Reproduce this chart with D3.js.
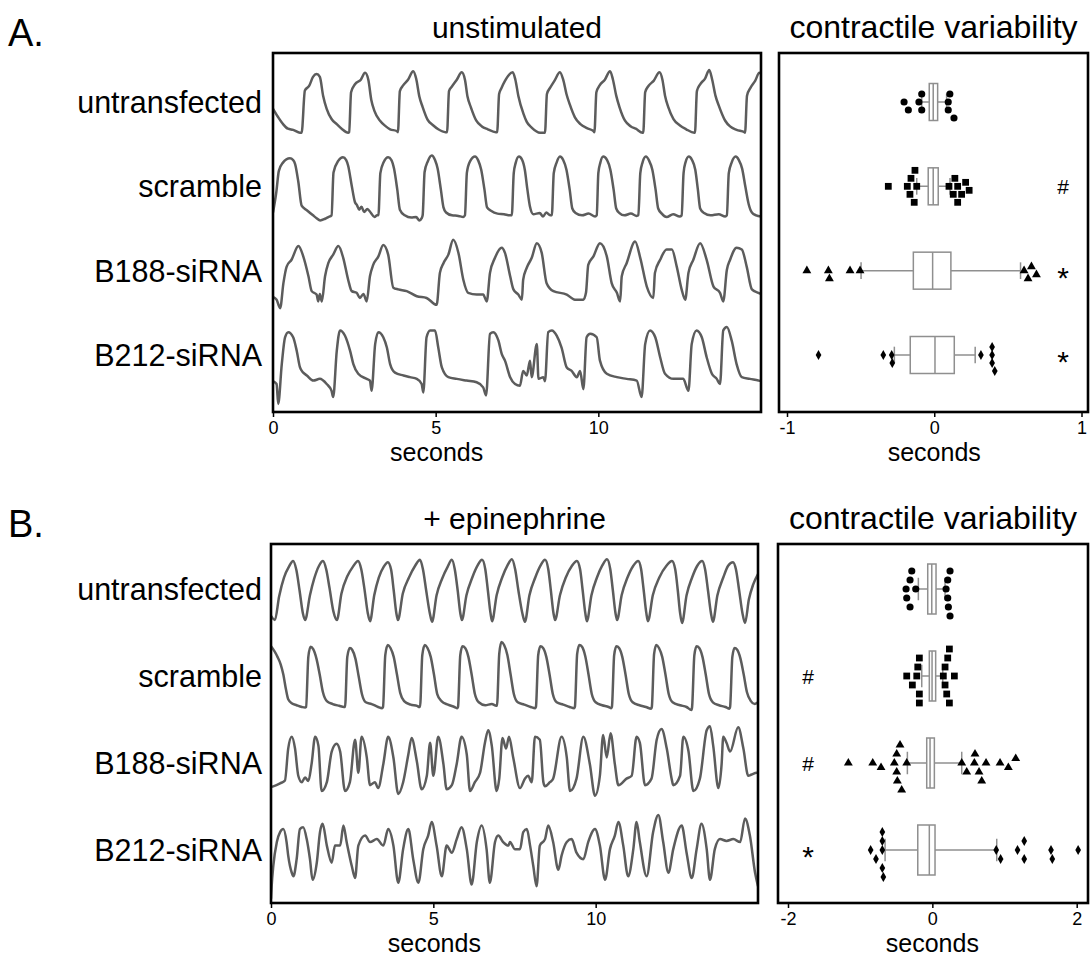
<!DOCTYPE html>
<html><head><meta charset="utf-8">
<script src="https://cdn.jsdelivr.net/npm/d3@7"></script>
<style>
body{margin:0;background:#fff}
svg{display:block}
text{font-family:"Liberation Sans",Arial,Helvetica,sans-serif;fill:#000}
</style>
</head><body>
<svg id="fig" width="1090" height="957"></svg>
<script>
// ---- categories and ticks ----
const groups = ["untransfected", "scramble", "B188-siRNA", "B212-siRNA"];
const traceTicks = [0, 5, 10];
const restVarTicks = [-1, 0, 1];
const epiVarTicks = [-2, 0, 2];

// ---- contraction traces: [time (s), normalised amplitude] ----
const restUntransfected = [[0,0.39],[0.15,0.25],[0.31,0.12],[0.46,0.04],[0.62,0.02],[0.83,-0.03],
[0.88,-0.03],[0.98,0.71],[1.11,0.79],[1.23,0.95],[1.34,1.0],[1.44,0.95],[1.54,0.62],[1.65,0.39],[1.80,0.21],[1.96,0.12],[2.11,0.04],[2.31,-0.03],
[2.34,-0.02],[2.40,0.68],[2.52,0.82],[2.70,0.9],[2.83,1.02],[2.93,0.9],[3.02,0.55],[3.12,0.35],[3.29,0.18],[3.45,0.09],[3.60,0.03],[3.80,0.0],
[3.84,-0.02],[3.90,0.7],[4.00,0.8],[4.15,0.9],[4.31,1.05],[4.40,0.92],[4.50,0.6],[4.60,0.42],[4.75,0.2],[4.92,0.1],[5.08,0.03],[5.30,-0.02],
[5.35,-0.02],[5.41,0.7],[5.50,0.78],[5.65,0.9],[5.80,1.03],[5.90,0.9],[5.98,0.6],[6.08,0.42],[6.25,0.18],[6.42,0.08],[6.60,0.03],[6.85,-0.02],
[6.89,-0.02],[6.95,0.65],[7.02,0.75],[7.13,0.88],[7.37,1.03],[7.45,0.9],[7.54,0.62],[7.70,0.3],[7.80,0.16],[7.95,0.06],[8.21,-0.03],
[8.36,-0.03],[8.42,0.65],[8.52,0.76],[8.65,0.88],[8.82,1.03],[8.92,0.9],[9.02,0.65],[9.12,0.47],[9.28,0.24],[9.45,0.12],[9.65,0.05],[9.85,0.0],
[9.88,-0.02],[9.94,0.68],[10.04,0.8],[10.20,0.9],[10.36,1.05],[10.45,0.9],[10.55,0.62],[10.65,0.42],[10.82,0.18],[11.0,0.08],[11.15,0.04],[11.36,-0.03],
[11.38,-0.03],[11.44,0.68],[11.54,0.79],[11.70,0.88],[11.88,1.03],[11.97,0.9],[12.05,0.62],[12.15,0.42],[12.31,0.21],[12.5,0.1],[12.7,0.03],[12.95,-0.03],
[12.97,-0.03],[13.03,0.7],[13.13,0.82],[13.28,0.92],[13.41,1.07],[13.50,0.9],[13.6,0.62],[13.7,0.45],[13.9,0.18],[14.05,0.08],[14.25,0.02],[14.49,-0.02],
[14.51,-0.03],[14.57,0.62],[14.68,0.76],[14.82,0.88],[14.95,1.02],[15.0,1.0]];

const restScramble = [[0,0.05],[0.1,0.4],[0.18,0.78],[0.3,0.92],[0.52,1.0],[0.62,0.97],[0.68,0.9],[0.78,0.58],[0.88,0.17],[1.04,0.09],[1.23,0.0],[1.34,-0.05],[1.45,-0.09],[1.6,-0.06],[1.7,-0.03],
[1.80,0.0],[1.86,0.75],[2.01,0.96],[2.15,1.02],[2.25,0.97],[2.31,0.87],[2.42,0.52],[2.52,0.23],[2.58,0.18],[2.65,0.1],[2.72,0.15],[2.8,0.06],[2.9,0.11],[3.0,0.05],[3.12,-0.03],[3.2,0.0],
[3.24,0.0],[3.30,0.74],[3.40,0.93],[3.54,1.02],[3.64,0.97],[3.72,0.82],[3.82,0.45],[3.9,0.1],[4.05,0.0],[4.25,-0.04],[4.4,-0.03],[4.5,-0.09],[4.57,-0.05],
[4.60,0.0],[4.66,0.76],[4.76,0.95],[4.88,1.05],[4.98,0.97],[5.06,0.82],[5.16,0.45],[5.24,0.14],[5.32,0.05],[5.5,0.0],[5.7,-0.01],[5.85,-0.03],
[5.90,0.0],[5.96,0.75],[6.06,0.95],[6.21,1.03],[6.31,0.96],[6.40,0.8],[6.50,0.45],[6.58,0.14],[6.7,0.08],[6.9,0.03],[7.1,0.02],[7.28,0.0],
[7.34,0.0],[7.40,0.74],[7.46,0.92],[7.56,1.03],[7.66,0.97],[7.74,0.8],[7.82,0.45],[7.90,0.15],[8.0,0.02],[8.2,0.04],[8.3,-0.02],[8.4,0.05],[8.52,0.0],
[8.57,0.0],[8.63,0.74],[8.72,0.93],[8.82,1.03],[8.92,0.97],[9.02,0.8],[9.12,0.45],[9.20,0.12],[9.3,0.04],[9.5,0.0],[9.7,0.03],[9.9,-0.02],
[9.95,0.0],[10.0,0.74],[10.06,0.92],[10.15,1.03],[10.27,0.97],[10.37,0.8],[10.47,0.45],[10.55,0.12],[10.65,0.04],[10.8,0.0],[11.0,0.03],[11.18,-0.01],
[11.23,0.0],[11.29,0.74],[11.36,0.93],[11.46,1.03],[11.56,0.96],[11.66,0.8],[11.76,0.45],[11.84,0.12],[11.95,0.03],[12.1,-0.03],[12.3,0.02],[12.5,-0.02],
[12.56,0.0],[12.62,0.74],[12.68,0.93],[12.78,1.03],[12.88,0.97],[12.98,0.8],[13.06,0.45],[13.13,0.12],[13.25,0.04],[13.45,0.0],[13.7,0.02],[13.9,-0.02],
[13.95,0.0],[14.01,0.74],[14.1,0.93],[14.22,1.03],[14.32,0.97],[14.42,0.82],[14.52,0.5],[14.62,0.2],[14.72,0.05],[14.85,0.0],[15.0,-0.02]];

const restB188 = [[0,0.05],[0.11,0.0],[0.22,-0.15],[0.32,0.29],[0.42,0.58],[0.57,0.70],[0.78,0.94],[0.93,0.76],[1.09,0.41],[1.19,0.15],[1.34,0.09],[1.39,-0.03],[1.44,0.1],[1.50,-0.03],
[1.60,0.41],[1.70,0.64],[1.85,0.79],[2.01,0.94],[2.16,0.73],[2.31,0.35],[2.42,0.15],[2.57,0.12],[2.67,0.03],[2.78,0.1],[2.88,-0.03],
[2.98,0.41],[3.08,0.61],[3.24,0.76],[3.39,0.96],[3.54,0.79],[3.70,0.21],[3.85,0.18],[4.11,0.15],[4.42,0.06],[4.72,0.03],[5.03,-0.09],
[5.13,0.47],[5.24,0.64],[5.39,0.79],[5.54,1.05],[5.70,0.82],[5.85,0.35],[6.00,0.12],[6.26,0.09],[6.46,0.09],[6.57,-0.03],
[6.67,0.47],[6.82,0.73],[7.03,0.91],[7.13,0.82],[7.29,0.41],[7.39,0.18],[7.54,0.09],[7.65,0.0],
[7.69,0.35],[7.80,0.56],[7.95,0.73],[8.11,0.99],[8.26,0.82],[8.41,0.29],[8.62,0.15],[9.03,0.09],[9.28,0.0],[9.54,0.0],
[9.62,0.12],[9.69,0.61],[9.85,0.76],[10.05,0.99],[10.26,0.76],[10.41,0.29],[10.57,0.12],[10.67,-0.03],
[10.72,0.41],[10.87,0.64],[11.13,1.02],[11.29,0.73],[11.49,0.23],[11.69,0.03],
[11.74,0.47],[11.90,0.70],[12.10,0.88],[12.26,0.88],[12.41,0.58],[12.56,0.18],[12.67,0.0],
[12.77,0.47],[12.92,0.70],[13.13,0.99],[13.33,0.70],[13.54,0.23],[13.74,0.12],[13.84,-0.03],
[13.95,0.52],[14.05,0.70],[14.25,0.91],[14.41,0.88],[14.56,0.58],[14.72,0.18],[14.92,0.12],[15.0,0.1]];

const restB212 = [[0,0.05],[0.11,0.0],[0.16,-0.35],[0.27,0.35],[0.37,0.82],[0.47,0.91],[0.62,0.82],[0.73,0.58],[0.83,0.29],[0.93,0.2],[1.04,0.15],[1.24,0.06],[1.44,0.09],[1.65,0.0],[1.80,-0.12],[1.85,-0.23],
[1.96,0.58],[2.06,0.94],[2.21,0.85],[2.37,0.58],[2.47,0.35],[2.62,0.18],[2.88,0.09],[2.98,0.06],[3.03,-0.12],
[3.14,0.70],[3.24,0.91],[3.39,0.82],[3.50,0.64],[3.60,0.35],[3.75,0.2],[4.01,0.15],[4.21,0.12],[4.42,0.09],[4.57,0.0],[4.62,-0.15],
[4.72,0.82],[4.83,0.94],[4.98,0.94],[5.08,0.64],[5.19,0.29],[5.39,0.12],[5.65,0.09],[5.95,0.06],[6.26,0.03],[6.46,-0.06],[6.55,-0.2],
[6.67,0.88],[6.77,0.91],[6.93,0.76],[7.03,0.53],[7.13,0.41],[7.29,0.12],[7.44,0.0],[7.59,-0.03],[7.69,0.23],[7.80,0.15],[7.90,0.41],[7.95,0.12],[8.11,0.70],[8.16,0.09],[8.31,0.12],[8.36,0.05],
[8.46,0.91],[8.57,0.94],[8.72,0.85],[8.87,0.64],[9.03,0.29],[9.18,0.23],[9.34,0.12],[9.44,0.23],[9.54,-0.09],
[9.64,0.82],[9.75,0.88],[9.95,0.82],[10.05,0.41],[10.26,0.18],[10.57,0.12],[10.87,0.09],[11.18,0.06],[11.33,-0.23],
[11.44,0.70],[11.59,0.94],[11.75,0.82],[11.90,0.47],[12.05,0.18],[12.31,0.09],[12.61,0.09],[12.77,-0.12],
[12.87,0.70],[13.02,0.94],[13.18,0.82],[13.33,0.47],[13.49,0.18],[13.64,0.09],[13.74,0.0],
[13.84,0.94],[13.95,1.0],[14.10,0.76],[14.25,0.35],[14.41,0.12],[14.66,0.09],[14.92,0.06],[15.0,0.05]];

const epiUntransfected = [[0,0.07],[0.12,0.0],[0.25,0.4],[0.4,0.72],[0.55,0.9],[0.68,1.0],[0.78,0.85],[0.88,0.5],[0.98,0.12],
[1.05,0.0],[1.2,0.42],[1.33,0.7],[1.48,0.92],[1.60,1.0],[1.7,0.86],[1.8,0.55],[1.92,0.15],
[2.03,0.0],[2.17,0.45],[2.35,0.74],[2.52,0.9],[2.68,1.0],[2.78,0.86],[2.88,0.52],[2.98,0.12],
[3.05,-0.02],[3.18,0.42],[3.32,0.72],[3.47,0.9],[3.60,0.98],[3.70,0.85],[3.78,0.5],[3.86,0.12],
[3.91,0.0],[4.06,0.45],[4.25,0.72],[4.44,0.92],[4.59,1.02],[4.68,0.86],[4.78,0.5],[4.89,0.12],
[4.96,-0.03],[5.1,0.42],[5.27,0.7],[5.44,0.9],[5.57,1.02],[5.66,0.86],[5.75,0.5],[5.83,0.12],
[5.88,0.0],[6.02,0.42],[6.2,0.72],[6.36,0.92],[6.50,1.02],[6.6,0.86],[6.68,0.5],[6.76,0.12],
[6.81,-0.02],[6.95,0.42],[7.12,0.72],[7.28,0.92],[7.42,1.03],[7.52,0.86],[7.62,0.5],[7.74,0.12],
[7.82,-0.03],[7.96,0.42],[8.14,0.72],[8.3,0.92],[8.44,1.02],[8.54,0.86],[8.62,0.5],[8.7,0.12],
[8.75,0.0],[8.9,0.42],[9.08,0.72],[9.27,0.92],[9.42,1.0],[9.52,0.86],[9.6,0.5],[9.68,0.12],
[9.73,-0.02],[9.87,0.42],[10.04,0.72],[10.2,0.92],[10.35,1.03],[10.45,0.86],[10.53,0.5],[10.61,0.12],
[10.66,0.0],[10.8,0.42],[10.98,0.72],[11.16,0.92],[11.31,1.0],[11.4,0.86],[11.48,0.5],[11.56,0.12],
[11.61,-0.02],[11.76,0.42],[11.96,0.72],[12.18,0.92],[12.35,1.0],[12.45,0.86],[12.53,0.5],[12.6,0.12],
[12.66,-0.05],[12.8,0.42],[12.97,0.72],[13.13,0.92],[13.28,1.0],[13.37,0.86],[13.46,0.5],[13.55,0.12],
[13.61,-0.03],[13.75,0.42],[13.93,0.72],[14.08,0.92],[14.23,0.98],[14.32,0.86],[14.42,0.5],[14.52,0.12],
[14.6,-0.05],[14.72,0.35],[14.85,0.6],[15.0,0.78]];

const epiScramble = [[0,1.03],[0.1,0.95],[0.2,0.85],[0.3,0.72],[0.38,0.55],[0.46,0.3],[0.53,0.13],[0.65,0.06],[0.79,0.03],[0.95,0.0],[1.05,-0.01],
[1.08,0.0],[1.15,0.85],[1.22,1.02],[1.3,0.98],[1.4,0.82],[1.5,0.55],[1.6,0.25],[1.72,0.1],[1.9,0.05],[2.1,0.02],[2.25,0.0],
[2.28,0.0],[2.35,0.85],[2.43,1.0],[2.5,0.97],[2.6,0.82],[2.7,0.52],[2.8,0.22],[2.92,0.08],[3.1,0.05],[3.3,0.0],[3.42,-0.02],
[3.45,0.0],[3.52,0.88],[3.6,1.05],[3.68,1.0],[3.78,0.85],[3.88,0.55],[3.98,0.24],[4.1,0.1],[4.3,0.04],[4.5,0.02],[4.57,0.0],
[4.59,0.0],[4.66,0.88],[4.74,1.05],[4.82,1.0],[4.92,0.85],[5.02,0.55],[5.12,0.22],[5.25,0.1],[5.45,0.04],[5.65,0.0],[5.74,-0.02],
[5.76,0.0],[5.83,0.88],[5.9,1.03],[5.98,1.0],[6.08,0.85],[6.18,0.55],[6.28,0.22],[6.4,0.08],[6.6,0.03],[6.8,0.05],[6.94,0.02],
[6.96,0.02],[7.03,0.9],[7.1,1.1],[7.18,1.05],[7.28,0.88],[7.38,0.55],[7.48,0.22],[7.6,0.08],[7.8,0.04],[8.0,0.0],[8.14,-0.02],
[8.16,0.0],[8.23,0.88],[8.3,1.03],[8.38,1.0],[8.48,0.85],[8.58,0.55],[8.68,0.22],[8.8,0.08],[9.0,0.04],[9.2,0.0],[9.34,-0.02],
[9.36,0.0],[9.43,0.9],[9.5,1.05],[9.58,1.02],[9.68,0.86],[9.78,0.55],[9.88,0.22],[10.0,0.08],[10.2,0.03],[10.4,0.0],[10.48,-0.02],
[10.5,0.0],[10.57,0.88],[10.64,1.03],[10.72,1.0],[10.82,0.85],[10.92,0.55],[11.02,0.22],[11.14,0.08],[11.35,0.03],[11.55,0.0],[11.71,-0.03],
[11.73,0.0],[11.8,0.9],[11.87,1.05],[11.95,1.0],[12.05,0.85],[12.15,0.55],[12.25,0.22],[12.37,0.08],[12.6,0.03],[12.8,0.0],[12.95,-0.05],
[12.97,0.0],[13.04,0.88],[13.11,1.03],[13.19,1.0],[13.29,0.85],[13.39,0.55],[13.49,0.22],[13.61,0.08],[13.8,0.03],[14.0,0.0],[14.12,-0.03],
[14.14,0.0],[14.21,0.85],[14.28,1.0],[14.36,0.97],[14.46,0.82],[14.56,0.55],[14.66,0.25],[14.78,0.1],[14.9,0.05],[15.0,0.08]];

const epiB188 = [[0,0.12],[0.07,0.13],[0.28,0.18],[0.43,0.23],[0.53,0.77],[0.64,0.97],[0.74,0.77],[0.84,0.31],[0.95,0.2],[1.05,0.28],[1.15,0.22],[1.25,0.51],[1.36,0.97],[1.46,0.82],[1.56,0.05],
[1.72,0.2],[1.87,0.72],[2.02,0.85],[2.13,0.72],[2.28,0.05],[2.43,0.2],[2.59,0.92],[2.69,0.36],[2.79,0.97],[2.95,0.62],[3.05,0.15],[3.20,0.2],[3.30,0.1],
[3.46,0.51],[3.61,0.97],[3.77,0.62],[3.92,0.0],[4.07,0.2],[4.23,0.67],[4.33,0.95],[4.49,0.56],[4.64,0.08],[4.80,0.31],[4.90,0.87],[5.0,0.31],[5.15,0.97],[5.31,0.51],[5.41,0.08],
[5.57,0.15],[5.72,0.51],[5.87,0.97],[6.03,0.67],[6.13,0.05],[6.28,0.2],[6.44,0.36],[6.59,0.87],[6.69,1.08],[6.80,0.82],[6.95,0.05],
[7.03,0.26],[7.13,0.95],[7.24,0.77],[7.33,0.97],[7.46,0.62],[7.67,0.1],[7.82,0.26],[7.92,0.31],[8.03,0.2],[8.13,0.97],[8.28,0.92],[8.39,0.2],[8.44,0.13],
[8.59,0.2],[8.69,0.26],[8.95,0.97],[9.11,0.62],[9.21,0.05],[9.41,0.26],[9.62,0.97],[9.82,0.51],[9.98,-0.03],[10.13,0.31],[10.23,1.0],[10.34,0.62],[10.46,1.03],[10.59,0.51],[10.70,0.15],
[10.95,0.26],[11.11,0.31],[11.26,0.97],[11.36,0.87],[11.52,0.15],[11.72,0.26],[11.88,0.92],[12.03,1.1],[12.19,0.77],[12.34,0.26],[12.39,0.15],[12.60,0.31],[12.70,0.97],[12.86,0.72],[13.01,0.05],
[13.21,0.26],[13.42,1.08],[13.52,1.15],[13.62,0.82],[13.78,0.1],[13.88,0.51],[13.93,0.97],[14.03,0.87],[14.14,0.72],[14.39,1.13],[14.55,0.77],[14.70,0.31],[14.80,0.33],[14.96,0.36],[15.0,0.36]];

const epiB212 = [[0,-0.3],[0.02,-0.09],[0.07,0.25],[0.18,0.66],[0.28,0.83],[0.38,0.88],[0.48,0.66],[0.53,0.43],[0.64,0.14],[0.69,0.08],[0.79,0.37],[0.89,0.88],[0.99,0.91],[1.10,0.71],[1.20,0.37],[1.28,0.02],
[1.41,0.31],[1.51,0.83],[1.59,0.97],[1.72,0.6],[1.87,0.31],[1.97,0.6],[2.13,0.6],[2.23,0.94],[2.33,0.66],[2.49,0.25],[2.59,0.05],[2.69,0.6],[2.90,0.77],[3.05,0.66],[3.26,0.71],[3.46,0.6],[3.61,0.88],[3.77,0.6],[3.92,-0.03],
[4.07,0.54],[4.23,0.88],[4.38,0.37],[4.54,-0.03],[4.69,0.54],[4.84,0.77],[4.95,1.0],[5.10,0.6],[5.26,0.08],[5.41,0.6],[5.57,0.48],[5.72,0.71],[5.87,0.91],[6.03,0.54],[6.18,-0.06],
[6.34,0.66],[6.49,0.94],[6.64,0.54],[6.74,-0.03],[6.90,0.66],[7.0,0.77],[7.15,0.66],[7.31,0.6],[7.36,0.66],[7.51,0.54],[7.67,0.54],[7.77,0.83],[7.88,0.88],[7.98,0.6],[8.08,0.25],[8.18,-0.09],
[8.28,0.6],[8.44,0.71],[8.54,0.94],[8.69,0.66],[8.85,0.19],[8.95,0.43],[9.11,0.66],[9.26,0.71],[9.41,0.48],[9.62,0.37],[9.77,0.66],[9.98,0.88],[10.13,0.6],[10.29,0.02],
[10.44,0.54],[10.59,0.77],[10.70,1.0],[10.85,0.6],[11.0,0.08],[11.16,0.54],[11.26,1.0],[11.36,0.66],[11.57,0.08],[11.77,0.83],[11.93,1.12],[12.08,0.66],[12.24,0.14],
[12.39,0.54],[12.65,0.94],[12.80,0.48],[12.96,0.05],[13.11,0.54],[13.26,0.97],[13.42,0.54],[13.52,0.02],[13.67,0.54],[13.83,0.71],[14.03,0.68],[14.24,0.71],[14.45,0.66],[14.60,1.06],[14.75,0.77],[14.91,0.14],[15.0,-0.09]];

// ---- contractile variability (s): box statistics and outlying beats ----
const restQuartiles = [[-0.034, -0.007, 0.023], [-0.041, -0.007, 0.027], [-0.142, -0.011, 0.113], [-0.163, 0.005, 0.136]];
const restWhiskers  = [[-0.085, 0.084], [-0.119, 0.107], [-0.497, 0.586], [-0.271, 0.278]];
const restPoints = [
  [-0.205, -0.176, -0.104, -0.085, -0.085, 0.095, 0.095, 0.106, 0.134],
  [-0.312, -0.183, -0.165, -0.158, -0.136, -0.131, -0.119, 0.10, 0.129, 0.14, 0.159, 0.159, 0.186, 0.213, 0.237],
  [-0.865, -0.719, -0.712, -0.572, -0.504, 0.61, 0.637, 0.66, 0.694],
  [-0.786, -0.346, -0.289, -0.285, 0.317, 0.393, 0.393, 0.393, 0.411]
];
const restSignificance = ["", "#", "*", "*"];

const epiQuartiles = [[-0.064, -0.008, 0.051], [-0.042, -0.004, 0.046], [-0.078, -0.032, 0.028], [-0.202, -0.042, 0.037]];
const epiWhiskers  = [[-0.194, 0.176], [-0.147, 0.144], [-0.346, 0.407], [-0.655, 0.892]];
const epiPoints = [
  [-0.364, -0.355, -0.309, -0.309, -0.285, -0.23, 0.19, 0.213, 0.213, 0.222, 0.245, 0.245],
  [-0.355, -0.277, -0.216, -0.202, -0.18, -0.18, -0.18, 0.152, 0.176, 0.176, 0.199, 0.213, 0.236, 0.236, 0.305],
  [-1.164, -0.826, -0.711, -0.527, -0.494, -0.494, -0.485, -0.448, -0.425, -0.355, 0.407, 0.476, 0.582, 0.591, 0.647, 0.684, 0.744, 0.938, 1.053, 1.155],
  [-0.855, -0.781, -0.693, -0.693, -0.693, -0.693, -0.679, 0.885, 0.946, 1.18, 1.273, 1.273, 1.644, 1.662, 2.02]
];
const epiSignificance = ["", "#", "#", "*"];

// ---- drawing ----
const svg = d3.select("#fig");
const symbols = [d3.symbolCircle, d3.symbolSquare, d3.symbolTriangle, d3.symbolDiamond];
const symbolSizes = [40, 46, 34, 28];
const traceColor = "#5c5c5c";
const boxColor = "#8f8f8f";

const panels = [
  { letter: "A.", title: "unstimulated",
    traces: [restUntransfected, restScramble, restB188, restB212],
    quart: restQuartiles, whisk: restWhiskers, pts: restPoints, sig: restSignificance,
    varTicks: restVarTicks, varDomain: [-1, 1],
    g: { tx0: 273, tx1: 761, ty0: 53, ty1: 412, bx0: 779, bx1: 1088, vr0: 787, vr1: 1081.5,
         rows: [102, 355], boxH: 37, hi: -28, lo: 29, step: 8, sigX: 1063 } },
  { letter: "B.", title: "+ epinephrine",
    traces: [epiUntransfected, epiScramble, epiB188, epiB212],
    quart: epiQuartiles, whisk: epiWhiskers, pts: epiPoints, sig: epiSignificance,
    varTicks: epiVarTicks, varDomain: [-2, 2],
    g: { tx0: 271, tx1: 758, ty0: 544, ty1: 903, bx0: 778, bx1: 1088, vr0: 788, vr1: 1076.7,
         rows: [589, 850], boxH: 50, hi: -28, lo: 31, step: 9, sigX: 808 } }
];

// simple beeswarm: stack points with similar values vertically around the row
function dodge(values, xs, step) {
  const placed = [];
  const out = new Array(values.length);
  const order = values.map((v, i) => i).sort((a, b) => values[a] - values[b]);
  for (const i of order) {
    const x = xs(values[i]);
    for (let k = 0; k < 40; k++) {
      const dy = (k % 2 ? 1 : -1) * Math.ceil(k / 2) * step / 2;
      if (placed.every(p => (p.x - x) ** 2 + (p.y - dy) ** 2 >= step * step - 0.5)) {
        placed.push({ x, y: dy }); out[i] = dy; break;
      }
    }
  }
  return out;
}

function styleAxis(ax) {
  ax.select(".domain").remove();
  ax.selectAll("line").attr("stroke", "#000").attr("stroke-width", 1.5);
  ax.selectAll("text").attr("font-size", 18).attr("font-family", null);
}

panels.forEach((P, pi) => {
  const g = P.g;
  const root = svg.append("g");

  root.append("text").attr("x", 8).attr("y", g.ty0 - 7)
    .attr("font-size", 38).text(P.letter);
  root.append("text").attr("x", (g.tx0 + g.tx1) / 2).attr("y", g.ty0 - 15)
    .attr("text-anchor", "middle").attr("font-size", 30).text(P.title);
  root.append("text").attr("x", (g.bx0 + g.bx1) / 2).attr("y", g.ty0 - 15)
    .attr("text-anchor", "middle").attr("font-size", 32).text("contractile variability");

  const rowY = d3.scalePoint().domain(groups).range(g.rows);

  // row labels
  root.selectAll(".rowlab").data(groups).join("text")
    .attr("x", 262).attr("y", d => rowY(d)).attr("dy", "0.36em")
    .attr("text-anchor", "end").attr("font-size", 30.5).text(d => d);

  // ---- traces ----
  const xt = d3.scaleLinear().domain([0, 15]).range([g.tx0, g.tx1]);
  const clipId = "clip" + pi;
  root.append("clipPath").attr("id", clipId).append("rect")
    .attr("x", g.tx0).attr("y", g.ty0).attr("width", g.tx1 - g.tx0).attr("height", g.ty1 - g.ty0);
  const tg = root.append("g").attr("clip-path", `url(#${clipId})`);
  P.traces.forEach((tr, i) => {
    const c = rowY(groups[i]);
    const yv = d3.scaleLinear().domain([0, 1]).range([c + g.lo, c + g.hi]);
    const line = d3.line().x(d => xt(d[0])).y(d => yv(d[1])).curve(d3.curveMonotoneX);
    tg.append("path").datum(tr).attr("d", line)
      .attr("fill", "none").attr("stroke", traceColor).attr("stroke-width", 2.5)
      .attr("stroke-linejoin", "round");
  });
  root.append("rect").attr("x", g.tx0).attr("y", g.ty0)
    .attr("width", g.tx1 - g.tx0).attr("height", g.ty1 - g.ty0)
    .attr("fill", "none").attr("stroke", "#000").attr("stroke-width", 2.6);
  const axT = root.append("g").attr("transform", `translate(0,${g.ty1})`)
    .call(d3.axisBottom(xt).tickValues(traceTicks).tickSize(5).tickPadding(4).tickFormat(d => String(d)));
  styleAxis(axT);
  root.append("text").attr("x", xt(5) + 1).attr("y", g.ty1 + 48.5)
    .attr("text-anchor", "middle").attr("font-size", 25).text("seconds");

  // ---- variability box plots ----
  const xv = d3.scaleLinear().domain(P.varDomain).range([g.vr0, g.vr1]);
  const bg = root.append("g");
  const capH = g.boxH * 0.45;
  groups.forEach((grp, i) => {
    const c = rowY(grp);
    const [q1, med, q3] = P.quart[i];
    const [lo, hi] = P.whisk[i];
    bg.append("line").attr("x1", xv(lo)).attr("x2", xv(hi)).attr("y1", c).attr("y2", c)
      .attr("stroke", boxColor).attr("stroke-width", 1.5);
    [lo, hi].forEach(w => bg.append("line").attr("x1", xv(w)).attr("x2", xv(w))
      .attr("y1", c - capH / 2).attr("y2", c + capH / 2)
      .attr("stroke", boxColor).attr("stroke-width", 1.5));
    bg.append("rect").attr("x", xv(q1)).attr("y", c - g.boxH / 2)
      .attr("width", xv(q3) - xv(q1)).attr("height", g.boxH)
      .attr("fill", "#fff").attr("stroke", boxColor).attr("stroke-width", 1.5);
    bg.append("line").attr("x1", xv(med)).attr("x2", xv(med))
      .attr("y1", c - g.boxH / 2).attr("y2", c + g.boxH / 2)
      .attr("stroke", boxColor).attr("stroke-width", 1.5);

    const offs = dodge(P.pts[i], xv, g.step);
    const sym = d3.symbol().type(symbols[i]).size(symbolSizes[i]);
    bg.selectAll(null).data(P.pts[i]).join("path")
      .attr("d", sym)
      .attr("transform", (d, j) => `translate(${xv(d)},${c + offs[j]})`)
      .attr("fill", "#000");

    if (P.sig[i]) {
      const star = P.sig[i] === "*";
      bg.append("text").attr("x", g.sigX).attr("y", c + (star ? 17 : 7.5))
        .attr("text-anchor", "middle").attr("font-size", star ? 30 : 21)
        .text(P.sig[i]);
    }
  });
  root.append("rect").attr("x", g.bx0).attr("y", g.ty0)
    .attr("width", g.bx1 - g.bx0).attr("height", g.ty1 - g.ty0)
    .attr("fill", "none").attr("stroke", "#000").attr("stroke-width", 2.6);
  const axV = root.append("g").attr("transform", `translate(0,${g.ty1})`)
    .call(d3.axisBottom(xv).tickValues(P.varTicks).tickSize(5).tickPadding(4).tickFormat(d => String(d)));
  styleAxis(axV);
  root.append("text").attr("x", xv(0)).attr("y", g.ty1 + 48.5)
    .attr("text-anchor", "middle").attr("font-size", 25).text("seconds");
});
</script>
</body></html>
